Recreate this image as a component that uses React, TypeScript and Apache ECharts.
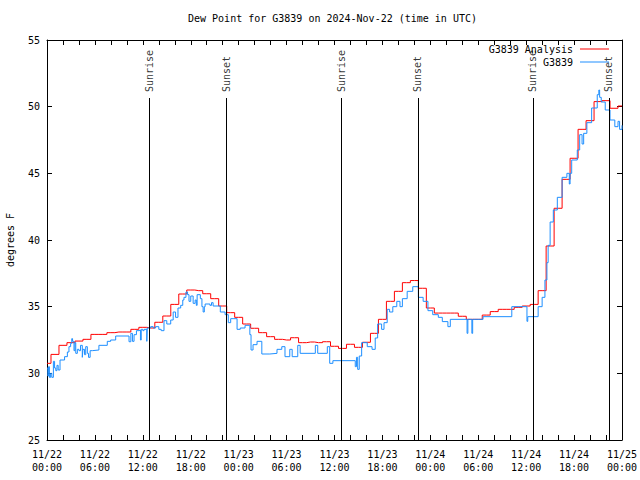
import React, { useEffect, useRef } from 'react';
import * as echarts from 'echarts';

const FONT = '"DejaVu Sans Mono", monospace';

// Hours since 2024-11-22 00:00 UTC
const analysisValues = [
  30.75, 31.42, 32.1, 32.3, 32.42, 32.55, 32.92, 32.92, 33.05, 33.1,
  33.1, 33.3, 33.45, 33.4, 33.83, 34.3, 35.17, 35.95, 36.25, 36.2,
  35.97, 35.6, 35.05, 34.55, 34.2, 33.7, 33.38, 33.05, 32.75, 32.55,
  32.5, 32.67, 32.3, 32.35, 32.3, 32.37, 32.03, 31.87, 32.18, 31.95,
  32.33, 33.0, 34.05, 35.4, 36.15, 36.8, 36.96, 36.38, 34.9, 34.52,
  34.52, 34.52, 34.28, 34.05, 34.05, 34.37, 34.63, 34.8, 34.8, 34.95,
  35.05, 35.17, 36.2, 39.55, 42.38, 44.55, 46.13, 48.3, 48.95, 50.38,
  50.45, 49.88, 50.05,
];

const obsHours = [
  0.0, 0.1, 0.2, 0.3, 0.45, 0.6, 0.8, 0.95, 1.1, 1.25,
  1.4, 1.63, 2.2, 2.55, 2.75, 2.96, 3.1, 3.2, 3.38, 3.5,
  3.6, 3.8, 4.0, 4.2, 4.42, 4.5, 4.7, 4.85, 5.05, 5.2,
  5.4, 5.67, 6.5, 7.55, 7.97, 8.6, 10.27, 10.5, 10.7, 10.9,
  11.2, 11.52, 11.7, 11.8, 12.0, 12.15, 12.5, 12.55, 12.98, 13.3,
  13.6, 14.0, 14.3, 14.65, 15.0, 15.49, 15.8, 16.1, 16.4, 16.74,
  17.0, 17.15, 17.4, 17.6, 17.78, 18.0, 18.3, 18.55, 18.7, 18.8,
  19.2, 19.4, 19.55, 19.7, 19.8, 20.4, 20.6, 20.8, 21.7, 22.3,
  22.7, 23.0, 23.3, 23.8, 24.2, 24.8, 25.4, 25.55, 25.8, 26.3,
  26.9, 27.9, 28.8, 29.4, 29.8, 30.4, 30.7, 31.4, 31.7, 33.6,
  33.9, 35.1, 35.4, 35.8, 38.6, 38.75, 38.9, 39.1, 39.4, 40.1,
  40.7, 41.1, 41.4, 41.9, 42.2, 42.6, 42.9, 43.3, 43.8, 44.2,
  44.5, 45.1, 45.8, 46.5, 47.1, 47.7, 48.3, 49.0, 49.5, 50.2,
  50.5, 52.6, 52.7, 53.2, 53.3, 54.6, 58.2, 60.1, 60.2, 61.5,
  62.0, 62.35, 62.6, 62.75, 63.0, 63.4, 63.9, 64.5, 65.1, 65.4,
  65.5, 65.7, 66.4, 66.7, 67.0, 67.2, 67.6, 68.2, 68.9, 69.1,
  69.2, 69.4, 69.9, 70.5, 71.1, 71.5, 71.7, 72.0,
];
const obsValues = [
  30.4, 29.8, 30.5, 29.7, 30.0, 29.7, 30.9, 30.4, 30.2, 30.6,
  30.25, 31.0, 31.25, 31.6, 32.0, 32.25, 32.6, 32.4, 31.7, 32.3,
  31.5, 31.8, 31.7, 32.1, 31.2, 31.8, 31.4, 32.0, 31.5, 31.2,
  31.7, 31.75, 32.1, 32.4, 32.5, 32.8, 32.37, 33.0, 32.4, 32.9,
  33.2, 33.25, 32.5, 33.3, 33.2, 33.3, 32.4, 33.4, 33.5, 33.4,
  33.5, 33.3, 33.2, 33.95, 33.7, 34.0, 34.6, 34.2, 34.9, 35.1,
  35.5, 35.7, 36.1, 35.9, 35.4, 35.8, 35.25, 35.5, 35.1, 35.9,
  35.6, 35.0, 34.6, 35.0, 35.2, 35.1, 35.3, 35.05, 34.6, 34.4,
  33.8, 34.1, 34.1, 33.3, 33.4, 33.6, 32.9, 31.75, 32.15, 32.4,
  31.45, 31.5, 31.8, 32.0, 31.25, 31.8, 31.25, 32.1, 31.5, 32.1,
  31.5, 32.0, 30.75, 30.95, 30.5, 31.2, 30.3, 31.3, 32.3, 32.0,
  31.8, 32.65, 33.7, 33.3, 33.8, 34.8, 34.6, 35.0, 35.4, 35.0,
  35.6, 36.15, 36.5, 35.7, 35.4, 34.7, 34.4, 34.2, 33.88, 33.5,
  34.05, 33.0, 34.05, 33.0, 34.05, 34.25, 35.0, 33.9, 34.25, 35.0,
  35.7, 37.0, 38.3, 39.6, 41.35, 42.25, 43.2, 44.7, 45.0, 44.2,
  45.0, 46.0, 46.75, 47.9, 47.2, 48.0, 48.8, 49.9, 50.9, 51.25,
  50.7, 50.35, 49.75, 49.0, 48.5, 48.9, 48.3, 48.6,
];

const eventNames = ['Sunrise', 'Sunset', 'Sunrise', 'Sunset', 'Sunrise', 'Sunset'];
const eventHours = [12.82, 22.42, 36.82, 46.45, 60.85, 70.37];
const eventLineTop = 50.65;
const eventLabelY = 51.1;

const pad = (n: number) => (n < 10 ? '0' + n : '' + n);
const fmtHour = (h: number) => {
  const d = new Date(Date.UTC(2024, 10, 22) + h * 3600000);
  return `${d.getUTCMonth() + 1}/${d.getUTCDate()}\n${pad(d.getUTCHours())}:${pad(d.getUTCMinutes())}`;
};

export default function App() {
  const ref = useRef<HTMLDivElement>(null);
  useEffect(() => {
    if (!ref.current) return;
    const chart = echarts.init(ref.current, null, { renderer: 'svg' });
    const black = '#000000';
    const xBase = {
      type: 'value',
      min: 0,
      max: 72,
      interval: 6,
      axisLine: { show: true, onZero: false, lineStyle: { color: black, width: 1 } },
      axisTick: { show: true, inside: true, length: 5, lineStyle: { color: black } },
      minorTick: { show: true, splitNumber: 3, length: 5, lineStyle: { color: black } },
      splitLine: { show: false },
    };
    const yBase = {
      type: 'value',
      min: 25,
      max: 55,
      interval: 5,
      axisLine: { show: true, onZero: false, lineStyle: { color: black, width: 1 } },
      axisTick: { show: true, inside: true, length: 5, lineStyle: { color: black } },
      splitLine: { show: false },
    };
    const legendBase = {
      right: 31,
      align: 'right',
      padding: 0,
      icon: 'rect',
      itemWidth: 29,
      itemHeight: 1,
      textStyle: { fontFamily: FONT, fontSize: 10, color: black, padding: [0, 2, 0, 0] },
    };
    chart.setOption({
      animation: false,
      backgroundColor: '#ffffff',
      title: {
        text: 'Dew Point for G3839 on 2024-Nov-22 (time in UTC)',
        left: 188,
        top: 13,
        padding: 0,
        textStyle: { fontFamily: FONT, fontSize: 10, fontWeight: 'normal', color: black },
      },
      legend: [
        { ...legendBase, data: ['G3839 Analysis'], top: 44 },
        { ...legendBase, data: ['G3839'], top: 57 },
      ],
      grid: { left: 47, right: 18, top: 40, bottom: 40, outerBoundsMode: 'none', containLabel: false },
      xAxis: [
        {
          ...xBase,
          position: 'bottom',
          axisLabel: {
            show: true,
            formatter: (v: number) => fmtHour(v),
            color: black,
            fontFamily: FONT,
            fontSize: 10,
            lineHeight: 13,
            margin: 8,
          },
        },
        { ...xBase, position: 'top', axisLabel: { show: false } },
      ],
      yAxis: [
        {
          ...yBase,
          position: 'left',
          name: 'degrees F',
          nameLocation: 'middle',
          nameGap: 32,
          nameTextStyle: { fontFamily: FONT, fontSize: 10, color: black },
          axisLabel: { color: black, fontFamily: FONT, fontSize: 10, margin: 7 },
        },
        { ...yBase, position: 'right', axisLabel: { show: false } },
      ],
      series: [
        {
          name: 'G3839 Analysis',
          type: 'line',
          step: 'middle',
          symbol: 'none',
          color: '#ff0000',
          lineStyle: { color: '#ff0000', width: 1 },
          data: analysisValues.map((v, i) => [i, v]),
          z: 2,
        },
        {
          name: 'G3839',
          type: 'line',
          step: 'end',
          symbol: 'none',
          color: '#1e8fff',
          lineStyle: { color: '#1e8fff', width: 1 },
          data: obsHours.map((h, i) => [h, obsValues[i]]),
          z: 3,
        },
        {
          name: 'events',
          type: 'scatter',
          symbol: 'circle',
          symbolSize: 1,
          itemStyle: { color: 'rgba(0,0,0,0)' },
          silent: true,
          z: 4,
          data: eventHours.map((h, i) => ({ name: eventNames[i], value: [h, eventLabelY] })),
          label: {
            show: true,
            formatter: '{b}',
            position: 'inside',
            rotate: 90,
            align: 'left',
            verticalAlign: 'middle',
            color: black,
            fontFamily: FONT,
            fontSize: 10,
          },
          markLine: {
            silent: true,
            symbol: ['none', 'none'],
            label: { show: false },
            lineStyle: { color: black, width: 1, type: 'solid' },
            data: eventHours.map((h) => [{ coord: [h, 25] }, { coord: [h, eventLineTop] }]),
          },
        },
      ],
    });
    return () => chart.dispose();
  }, []);
  return (
    <div
      ref={ref}
      style={{ position: 'fixed', left: 0, top: 0, width: 640, height: 480, background: '#fff' }}
    />
  );
}
